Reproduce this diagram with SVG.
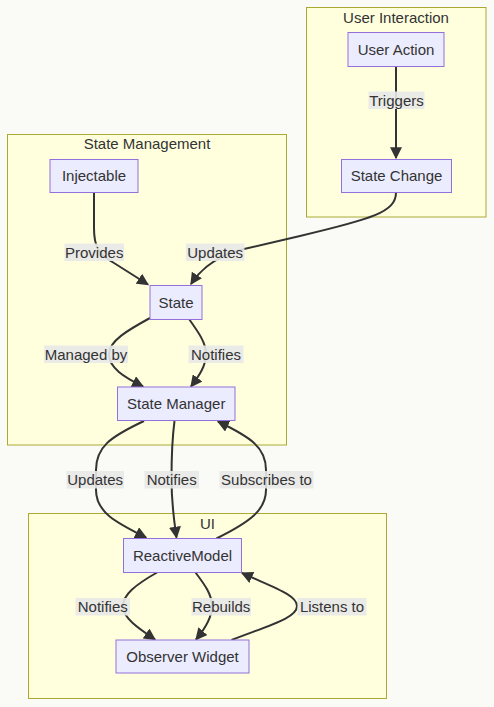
<svg xmlns="http://www.w3.org/2000/svg" width="494" height="707" viewBox="0 0 494 707">
<style>
text{font-family:"Trebuchet MS","Liberation Sans",Arial,sans-serif;font-size:15px;fill:#333;text-anchor:middle}
.cluster{fill:#ffffde;stroke:#aaaa33;stroke-width:1}
.node rect{fill:#ececff;stroke:#9370db;stroke-width:1}
.edge{fill:none;stroke:#333;stroke-width:2}
.lbl rect{fill:#e8e8e8;opacity:0.9}
</style>
<defs>
<marker id="arr" viewBox="0 0 10 10" refX="9" refY="5" markerWidth="12" markerHeight="12" markerUnits="userSpaceOnUse" orient="auto">
<path d="M0,0 L10,5 L0,10 z" fill="#333"/>
</marker>
</defs>
<rect width="494" height="707" fill="#fafaf6"/>
<g id="clusters">
<g id="cluster-user"><rect class="cluster" x="306.5" y="7.5" width="179.5" height="209.5"/><text x="396" y="23">User Interaction</text></g>
<g id="cluster-state"><rect class="cluster" x="7.5" y="134.5" width="279" height="310.5"/><text x="147" y="149">State Management</text></g>
<g id="cluster-ui"><rect class="cluster" x="28.5" y="513.5" width="358" height="185"/><text x="207.5" y="529">UI</text></g>
</g>
<g id="connectors">
<path class="edge" d="M396,66.5 L396,158" marker-end="url(#arr)"/>
<path class="edge" d="M396,192.5 C396,212 372,219 300,236 L244,249 C224,254 204,264 191,284" marker-end="url(#arr)"/>
<path class="edge" d="M94,192.5 L94,228 C94,246 98,254 114,263 L148,284.5" marker-end="url(#arr)"/>
<path class="edge" d="M150,318 C128,330 109,341 109,354 C109,368 124,377 143,386.5" marker-end="url(#arr)"/>
<path class="edge" d="M189,319 C199,333 206,343 206,354 C206,366 199,376 191,386.5" marker-end="url(#arr)"/>
<path class="edge" d="M144,421 C110,437 96,447 96,470 L96,490 C96,512 115,522 146,537.5" marker-end="url(#arr)"/>
<path class="edge" d="M174.5,421 C172,440 171.5,455 171.5,479 C171.5,505 174,520 176.5,537.5" marker-end="url(#arr)"/>
<path class="edge" d="M216.5,538.5 C250,522 266,510 266,490 L266,470 C266,447 250,437 218,421.5" marker-end="url(#arr)"/>
<path class="edge" d="M157,572.5 C135,585 123,595 123,606 C123,618 138,628 155,639.5" marker-end="url(#arr)"/>
<path class="edge" d="M195.5,572.5 C205,585 212,595 212,606 C212,618 204,630 196,639.5" marker-end="url(#arr)"/>
<path class="edge" d="M231.5,640 C270,625 297,618 297,606 C297,595 275,588 242,573" marker-end="url(#arr)"/>
</g>
<g id="edge-labels">
<g class="lbl"><rect x="368.5" y="91.5" width="56" height="17.5"/><text x="396.5" y="105.5">Triggers</text></g>
<g class="lbl"><rect x="186" y="243.5" width="58.5" height="17.5"/><text x="215.2" y="257.5">Updates</text></g>
<g class="lbl"><rect x="64.5" y="243.5" width="59.5" height="17.5"/><text x="94.2" y="257.5">Provides</text></g>
<g class="lbl"><rect x="44" y="345.5" width="84" height="17.5"/><text x="86" y="359.5">Managed by</text></g>
<g class="lbl"><rect x="188.5" y="345.5" width="55" height="17.5"/><text x="216" y="359.5">Notifies</text></g>
<g class="lbl"><rect x="66.5" y="471" width="57.5" height="17.5"/><text x="95.2" y="485">Updates</text></g>
<g class="lbl"><rect x="144.5" y="471" width="54.5" height="17.5"/><text x="171.7" y="485">Notifies</text></g>
<g class="lbl"><rect x="219.5" y="471" width="94" height="17.5"/><text x="266.5" y="485">Subscribes to</text></g>
<g class="lbl"><rect x="75.5" y="598" width="54.5" height="17.5"/><text x="102.8" y="612">Notifies</text></g>
<g class="lbl"><rect x="191.5" y="598" width="59.5" height="17.5"/><text x="221.2" y="612">Rebuilds</text></g>
<g class="lbl"><rect x="297.5" y="598" width="69" height="17.5"/><text x="332" y="612">Listens to</text></g>
</g>
<g id="node-user-action" class="node"><rect x="348" y="32.5" width="96" height="34"/><text x="396" y="54.5">User Action</text></g>
<g id="node-state-change" class="node"><rect x="341.5" y="159.5" width="110" height="33"/><text x="396.5" y="181">State Change</text></g>
<g id="node-injectable" class="node"><rect x="50" y="159.5" width="88" height="33"/><text x="94" y="181">Injectable</text></g>
<g id="node-state" class="node"><rect x="150" y="285.5" width="52" height="34"/><text x="176" y="307.5">State</text></g>
<g id="node-state-manager" class="node"><rect x="117.5" y="387" width="117.5" height="33.5"/><text x="176.2" y="409">State Manager</text></g>
<g id="node-reactive-model" class="node"><rect x="123.5" y="538.5" width="118" height="34"/><text x="182.5" y="560.5">ReactiveModel</text></g>
<g id="node-observer-widget" class="node"><rect x="116" y="640" width="133" height="33"/><text x="182.5" y="661.5">Observer Widget</text></g>
</svg>
